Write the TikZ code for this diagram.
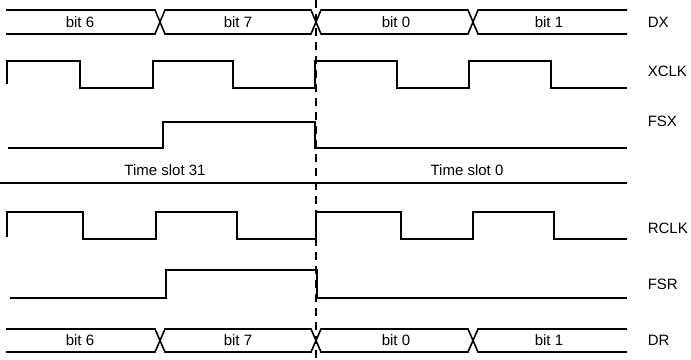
\documentclass[tikz,border=0pt]{standalone}
\usepackage{fontspec}
\setmainfont{Liberation Sans}
\usetikzlibrary{positioning}

\begin{document}
\begin{tikzpicture}[x=1pt, y=-1pt, line width=1.6pt,
  every node/.style={font=\fontsize{15}{18}\selectfont, inner sep=0pt}]
\useasboundingbox (0,0) rectangle (691,359);
\coordinate (cut1) at (316,0);
\coordinate (cut2) at (316,359);

% data buses, top and bottom
\foreach \t/\b/\name/\lab in {10/34/dx/DX, 329/352/dr/DR} {
  \draw (6,\t) -- (155,\t) -- (165,\b) -- (311,\b) -- (321,\t) -- (468,\t) -- (478,\b) -- (627,\b);
  \draw (6,\b) -- (155,\b) -- (165,\t) -- (311,\t) -- (321,\b) -- (468,\b) -- (478,\t) -- (627,\t);
  \node at (80,{(\t+\b)/2}) {bit 6};
  \node at (238,{(\t+\b)/2}) {bit 7};
  \node at (396,{(\t+\b)/2}) {bit 0};
  \node at (549,{(\t+\b)/2}) {bit 1};
  \node[anchor=west] (\name) at (647,{(\t+\b)/2}) {\lab};
}

% transmit side
\draw (7,84) -- (7,61) -- (80,61) -- (80,88) -- (153,88) -- (153,61)
 -- (233,61) -- (233,88) -- (315,88) -- (315,61) -- (397,61) -- (397,88)
 -- (469,88) -- (469,61) -- (551,61) -- (551,88) -- (627,88);
\node[anchor=west] (xclk) at (647,71) {XCLK};
\draw (8,148) -- (163,148) -- (163,122) -- (315,122) -- (315,148) -- (627,148);
\node[anchor=west] (fsx) at (647,121) {FSX};

\draw (0,183) -- (627,183);
\node (slot31) at (165,170) {Time slot 31};
\node (slot0) at (467,170) {Time slot 0};

% receive side
\draw (7,237) -- (7,212) -- (83,212) -- (83,239) -- (156,239) -- (156,212)
 -- (237,212) -- (237,239) -- (316,239) -- (316,212) -- (401,212) -- (401,239)
 -- (473,239) -- (473,212) -- (554,212) -- (554,239) -- (627,239);
\node[anchor=west] (rclk) at (647,228) {RCLK};
\draw (10,298) -- (166,298) -- (166,270) -- (317,270) -- (317,298) -- (627,298);
\node[anchor=west] (fsr) at (647,284) {FSR};

\draw[line width=1.3pt, dash pattern=on 8pt off 6pt] (cut1) -- (cut2);
\end{tikzpicture}
\end{document}
